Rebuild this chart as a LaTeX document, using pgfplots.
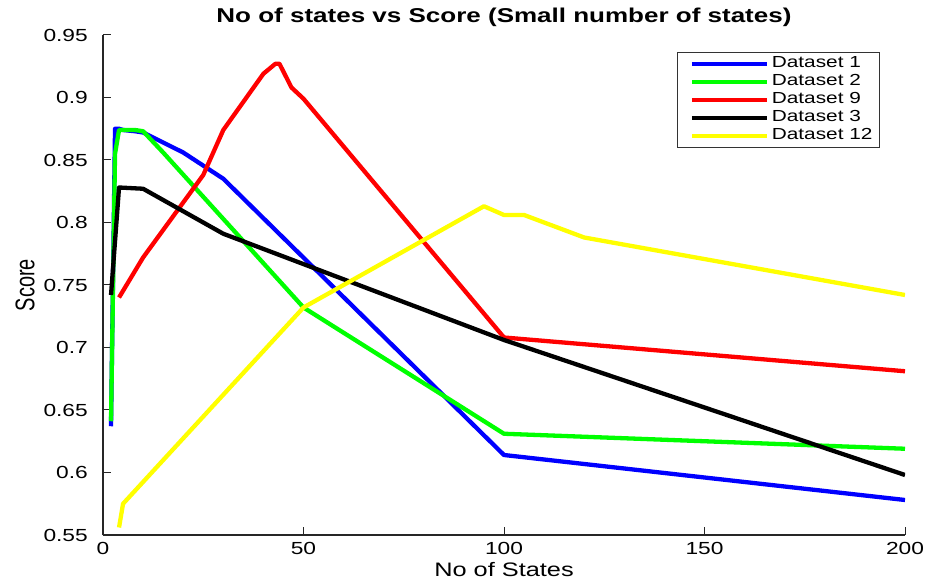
\documentclass[border=0pt]{standalone}
\usepackage{fontspec}
\setmainfont{Liberation Sans}[FakeStretch=1.3]
\newfontfamily\plainsans{Liberation Sans}
\usepackage{graphicx}
\usepackage{pgfplots}
\pgfplotsset{compat=1.18}
\begin{document}
\begin{tikzpicture}
\path[use as bounding box] (-103bp,-45bp) rectangle (823bp,535bp);
\begin{axis}[
  at={(0,0)}, anchor=south west,
  scale only axis, width=802bp, height=500bp,
  xmin=0, xmax=200, ymin=0.55, ymax=0.95,
  xtick={0,50,100,150,200},
  ytick={0.55,0.6,0.65,0.7,0.75,0.8,0.85,0.9,0.95},
  /pgf/number format/assume math mode=true,
  yticklabel style={/pgf/number format/fixed, /pgf/number format/precision=2, anchor=east, inner sep=0pt, xshift=-15bp},
  xticklabel style={anchor=north, inner sep=0pt, yshift=-7bp},
  tick label style={font=\fontsize{17.5bp}{20bp}\selectfont},
  axis x line*=bottom, axis y line*=left,
  axis line style={-, line width=1.3bp, black!85},
  tick style={line width=1bp, black!85},
  major tick length=8bp, tick align=inside,
  xlabel={No of States},
  xlabel style={font=\fontsize{19.5bp}{22bp}\selectfont, at={(axis description cs:0.5,-0.07)}, anchor=center, inner sep=0pt},
  ylabel={\scalebox{1}[1.35]{Score}},
  ylabel style={font=\plainsans\fontsize{20bp}{22bp}\selectfont, at={(axis description cs:-0.097,0.5)}, anchor=center, inner sep=0pt},
  title={No of states vs Score (Small number of states)},
  title style={font=\fontsize{20bp}{24bp}\selectfont\bfseries, at={(axis description cs:0.5,1.024)}, anchor=center, inner sep=0pt},
  legend cell align=left,
  legend image code/.code={\path (0bp,0bp); \draw[#1, line width=4bp] (8bp,0bp) -- (83bp,0bp);},
  legend style={at={(axis description cs:0.9688,0.966)}, anchor=north east,
    draw=black!80, line width=1bp, font=\fontsize{16bp}{18bp}\selectfont,
    inner xsep=4bp, inner ysep=2.5bp, row sep=0pt,
    nodes={inner ysep=1bp, inner xsep=3bp, text height=12bp, text depth=4bp}},
  every axis plot/.append style={line width=4.3bp, line join=round, no marks},
]
\addplot[color={rgb,255:red,0;green,0;blue,255}] coordinates {
(2,0.637) (3,0.875) (4,0.875) (5,0.874) (8,0.873) (10,0.872) (15,0.864) (20,0.856) (30,0.835) (100,0.614) (200,0.578)};
\addlegendentry{Dataset 1}
\addplot[color={rgb,255:red,0;green,255;blue,0}] coordinates {
(2,0.641) (3,0.855) (4,0.874) (5,0.874) (8,0.874) (10,0.873) (15,0.856) (50,0.732) (100,0.631) (200,0.619)};
\addlegendentry{Dataset 2}
\addplot[color={rgb,255:red,255;green,0;blue,0}] coordinates {
(4,0.740) (10,0.772) (25,0.838) (30,0.874) (40,0.919) (43,0.927) (44,0.927) (47,0.908) (50,0.899) (100,0.708) (200,0.681)};
\addlegendentry{Dataset 9}
\addplot[color=black] coordinates {
(2,0.742) (4,0.828) (10,0.827) (30,0.791) (100,0.706) (200,0.598)};
\addlegendentry{Dataset 3}
\addplot[color={rgb,255:red,255;green,255;blue,0}] coordinates {
(4,0.556) (5,0.575) (50,0.732) (95,0.813) (100,0.806) (105,0.806) (120,0.788) (200,0.742)};
\addlegendentry{Dataset 12}
\end{axis}
\end{tikzpicture}
\end{document}
